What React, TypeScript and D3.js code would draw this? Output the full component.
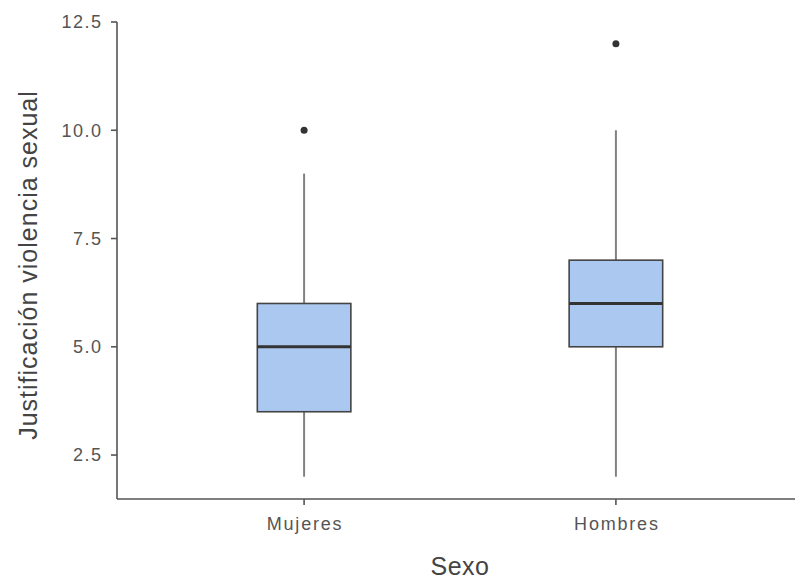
import React from "react";
import * as d3 from "d3";

const categories = ["Mujeres", "Hombres"];
const mins = [2, 2];
const q1s = [3.5, 5];
const medians = [5, 6];
const q3s = [6, 7];
const maxs = [9, 10];
const outliers = [[10], [12]];
const yTicks = [2.5, 5.0, 7.5, 10.0, 12.5];

const W = 795;
const H = 587;
const left = 117;
const bottom = 499;
const top = 22;

export default function App() {
  const x = d3.scalePoint<string>().domain(categories).range([left, 803]).padding(0.6);
  const y = d3.scaleLinear().domain([1.485, 12.5]).range([bottom, top]);
  const boxW = x.step() * 0.3;
  const font = "'Liberation Sans', Arial, sans-serif";
  return (
    <svg width={W} height={H} style={{ position: "absolute", left: 0, top: 0, background: "#fff" }}>
      {categories.map((c, i) => {
        const cx = x(c)!;
        return (
          <g key={c}>
            <line x1={cx} x2={cx} y1={y(q3s[i])} y2={y(maxs[i])} stroke="#808080" strokeWidth={2} />
            <line x1={cx} x2={cx} y1={y(q1s[i])} y2={y(mins[i])} stroke="#808080" strokeWidth={2} />
            <rect x={cx - boxW / 2} y={y(q3s[i])} width={boxW} height={y(q1s[i]) - y(q3s[i])} fill="#abc8f0" stroke="#444" strokeWidth={1.6} />
            <line x1={cx - boxW / 2} x2={cx + boxW / 2} y1={y(medians[i])} y2={y(medians[i])} stroke="#333" strokeWidth={3} />
            {outliers[i].map((o, j) => (
              <circle key={j} cx={cx} cy={y(o)} r={3.5} fill="#333" />
            ))}
          </g>
        );
      })}
      <line x1={left} x2={W} y1={bottom} y2={bottom} stroke="#555" strokeWidth={1.6} />
      <line x1={left} x2={left} y1={y(12.5)} y2={bottom} stroke="#555" strokeWidth={1.6} />
      {yTicks.map((t) => (
        <g key={t}>
          <line x1={left - 6} x2={left} y1={y(t)} y2={y(t)} stroke="#555" strokeWidth={1.6} />
          <text x={102.5} y={y(t)} dy="0.35em" textAnchor="end" fontFamily={font} fontSize={18} fill="#555" letterSpacing={1.5}>
            {d3.format(".1f")(t)}
          </text>
        </g>
      ))}
      {categories.map((c) => (
        <g key={c}>
          <line x1={x(c)!} x2={x(c)!} y1={bottom} y2={bottom + 6} stroke="#555" strokeWidth={1.6} />
          <text x={x(c)! + 1} y={bottom + 25} dy="0.35em" textAnchor="middle" fontFamily={font} fontSize={18} fill="#555" letterSpacing={1.8}>
            {c}
          </text>
        </g>
      ))}
      <text x={460} y={566} dy="0.35em" textAnchor="middle" fontFamily={font} fontSize={25} fill="#444" letterSpacing={0.5}>
        Sexo
      </text>
      <text transform={`translate(28, 265) rotate(-90)`} dy="0.35em" textAnchor="middle" fontFamily={font} fontSize={25} fill="#444" letterSpacing={1}>
        Justificación violencia sexual
      </text>
    </svg>
  );
}
